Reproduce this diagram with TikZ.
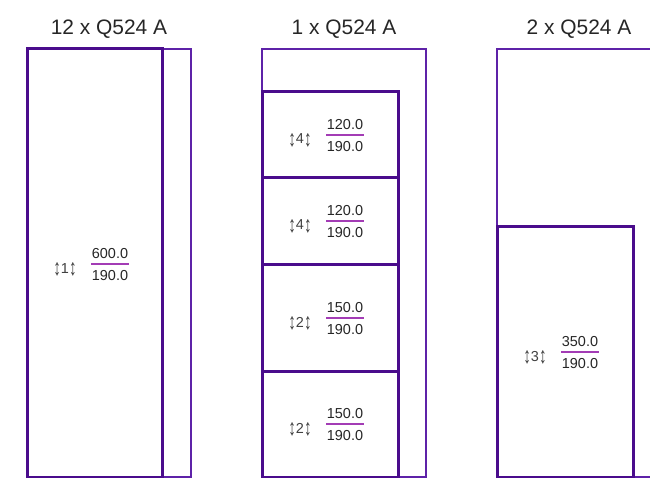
\documentclass[tikz,border=0pt]{standalone}
\usepackage{fontspec}
\usepackage{graphicx}
\setmainfont{Liberation Sans}
\definecolor{thickc}{HTML}{4A0C8C}
\definecolor{thinc}{HTML}{5E22A8}
\definecolor{fracc}{HTML}{A33CB5}
\newcommand{\updn}{\raisebox{-2.5bp}{\scalebox{1.05}[1.6]{↕}}}
\begin{document}
\begin{tikzpicture}[x=1bp,y=-1bp,
  stock/.style={draw=thinc,line width=1.8bp},
  piece/.style={draw=thickc,line width=3bp},
  title/.style={font=\fontsize{21}{21}\selectfont,text=black!85},
  num/.style={font=\fontsize{14.5}{14.5}\selectfont,text=black!85,inner sep=0pt},
  qty/.style={font=\fontsize{14.5}{14.5}\selectfont,text=black!75,inner sep=0pt},
  fracline/.style={draw=fracc,line width=2.2bp}]
\useasboundingbox (0,0) rectangle (650,478);
% titles
\node[title] (t1) at (109,29) {12 x Q524 A};
\node[title] (t2) at (344,29) {1 x Q524 A};
\node[title] (t3) at (579,29) {2 x Q524 A};
% stocks
\draw[stock] (27,49) rectangle (191,477);
\draw[stock] (262,49) rectangle (426,477);
\draw[stock] (497,49) rectangle (661,477);
% pieces
\draw[piece] (27,49) rectangle (162,477);
\draw[piece] (262,92) rectangle (398,178);
\draw[piece] (262,178) rectangle (398,264);
\draw[piece] (262,264) rectangle (398,371);
\draw[piece] (262,371) rectangle (398,477);
\draw[piece] (497,227) rectangle (633,477);
% labels
\newcommand{\plabel}[5]{%
  \node[qty,anchor=base] (q#5) at (#1-30,#2+9) {\updn#3\updn};
  \node[num,anchor=south] (n#5) at (#1+15,#2-5.5) {#4};
  \node[num,anchor=north] (d#5) at (#1+15,#2+6) {190.0};
  \draw[fracline] ([xshift=-0.5bp]n#5.south west|-#1,#2) -- ([xshift=0.5bp]n#5.south east|-#1,#2);
}
\plabel{95}{264}{1}{600.0}{a}
\plabel{330}{135}{4}{120.0}{b}
\plabel{330}{221}{4}{120.0}{c}
\plabel{330}{318}{2}{150.0}{d}
\plabel{330}{424}{2}{150.0}{e}
\plabel{565}{352}{3}{350.0}{f}
\end{tikzpicture}
\end{document}
